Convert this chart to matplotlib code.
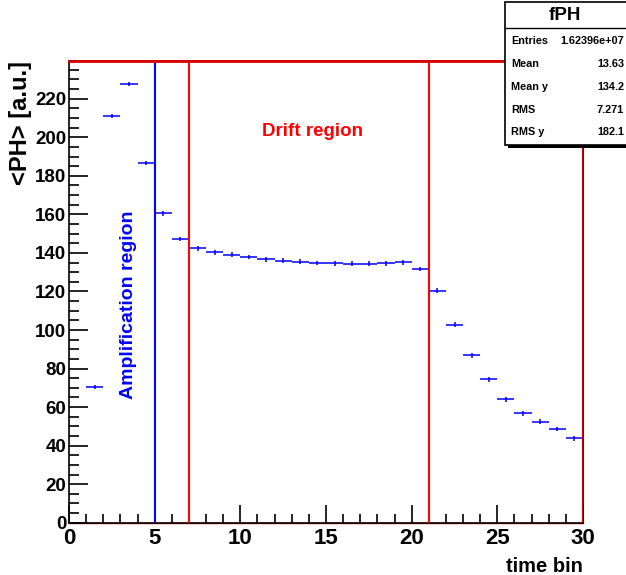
import matplotlib
matplotlib.use("Agg")
import matplotlib.pyplot as plt
from matplotlib.ticker import MultipleLocator
from matplotlib.patches import Rectangle

plt.rcParams['font.family'] = ['Liberation Sans', 'DejaVu Sans']
plt.rcParams['font.weight'] = 'bold'

# average pulse height per time bin
time_bin = [1.5, 2.5, 3.5, 4.5, 5.5, 6.5, 7.5, 8.5, 9.5, 10.5, 11.5, 12.5, 13.5, 14.5,
            15.5, 16.5, 17.5, 18.5, 19.5, 20.5, 21.5, 22.5, 23.5, 24.5, 25.5, 26.5,
            27.5, 28.5, 29.5]
mean_ph = [70.4, 211.0, 227.6, 186.6, 160.6, 147.2, 142.4, 140.3, 139.1, 137.9, 136.7,
           136.0, 135.4, 134.8, 134.6, 134.4, 134.4, 134.6, 135.1, 131.7, 120.4, 102.8,
           86.9, 74.4, 64.0, 56.8, 52.4, 48.6, 43.8]
ph_err = [1.2] * len(time_bin)

stat_names = ["Entries", "Mean", "Mean y", "RMS", "RMS y"]
stat_values = ["1.62396e+07", "13.63", "134.2", "7.271", "182.1"]

amp_edge = 5
drift_edges = [7, 21]

W, H = 626, 575
fig = plt.figure(figsize=(W / 100, H / 100), dpi=100)
ax = fig.add_axes([69 / W, 1 - 522.7 / H, (583 - 69) / W, (522.7 - 61) / H])

ax.errorbar(time_bin, mean_ph, xerr=0.5, yerr=ph_err, fmt='none',
            ecolor='#0000ff', elinewidth=1.1, capsize=0, zorder=3)

ax.set_xlim(0, 30)
ax.set_ylim(0, 239.6)

ax.axvline(amp_edge, color='#0000ff', lw=1.5, zorder=4)
for e in drift_edges:
    ax.axvline(e, color='#ff0000', lw=1.5, zorder=4)
ax.axhline(239.6, color='#dd0000', lw=2, zorder=4, clip_on=False)
ax.axhline(0, color='#dd0000', lw=1, zorder=1, clip_on=False)
ax.axvline(30, color='#cc0000', lw=1.5, zorder=4)

ax.text(14.2, 203, "Drift region", color='#ff0000', fontsize=13.5, fontweight='bold',
        ha='center', va='center')
ax.text(3.45, 113, "Amplification region", color='#0000ff', fontsize=14,
        fontweight='bold', rotation=90, ha='center', va='center')

for s in ax.spines.values():
    s.set_linewidth(1.2)
    s.set_color('black')

ax.xaxis.set_major_locator(MultipleLocator(5))
ax.xaxis.set_minor_locator(MultipleLocator(1))
ax.yaxis.set_major_locator(MultipleLocator(20))
ax.yaxis.set_minor_locator(MultipleLocator(5))
ax.tick_params(axis='both', which='both', direction='in', top=False, right=False,
               width=1.2)
ax.tick_params(axis='x', which='major', length=13, labelsize=16, pad=4)
ax.tick_params(axis='x', which='minor', length=6.5)
ax.tick_params(axis='y', which='major', length=14, labelsize=13.5, pad=2)
ax.tick_params(axis='y', which='minor', length=7)
for lbl in ax.get_xticklabels() + ax.get_yticklabels():
    lbl.set_fontweight('bold')

ax.set_xlabel("time bin", fontsize=14.5, fontweight='bold')
ax.xaxis.set_label_coords(1.0, -0.075)
ax.xaxis.label.set_ha('right')
ax.set_ylabel("<PH> [a.u.]", fontsize=17, fontweight='bold')
ax.yaxis.set_label_coords(-0.072, 1.0)
ax.yaxis.label.set_ha('right')

# statistics box
bx0, by0, bx1, by1 = 505, 2, 640, 145
fig.patches.append(Rectangle(((bx0 + 3) / W, 1 - (by1 + 3) / H), 1, 3 / H,
                             transform=fig.transFigure, facecolor='black',
                             edgecolor='none', zorder=9))
fig.patches.append(Rectangle((bx0 / W, 1 - by1 / H), (bx1 - bx0) / W, (by1 - by0) / H,
                             transform=fig.transFigure, facecolor='white',
                             edgecolor='black', lw=1.2, zorder=10))
fig.lines.append(plt.Line2D([bx0 / W, 1], [1 - 28 / H, 1 - 28 / H],
                            transform=fig.transFigure, color='black', lw=1, zorder=11))
fig.text(565 / W, 1 - 16 / H, "fPH", fontsize=13.5, fontweight='bold',
         ha='center', va='center', zorder=12)
rows_y = [41, 64, 87, 110, 132]
for name, val, ry in zip(stat_names, stat_values, rows_y):
    fig.text(511 / W, 1 - ry / H, name, fontsize=7.8, fontweight='bold',
             ha='left', va='center', zorder=12)
    fig.text(624 / W, 1 - ry / H, val, fontsize=7.8, fontweight='bold',
             ha='right', va='center', zorder=12)

fig.savefig("out.png", dpi=100)
